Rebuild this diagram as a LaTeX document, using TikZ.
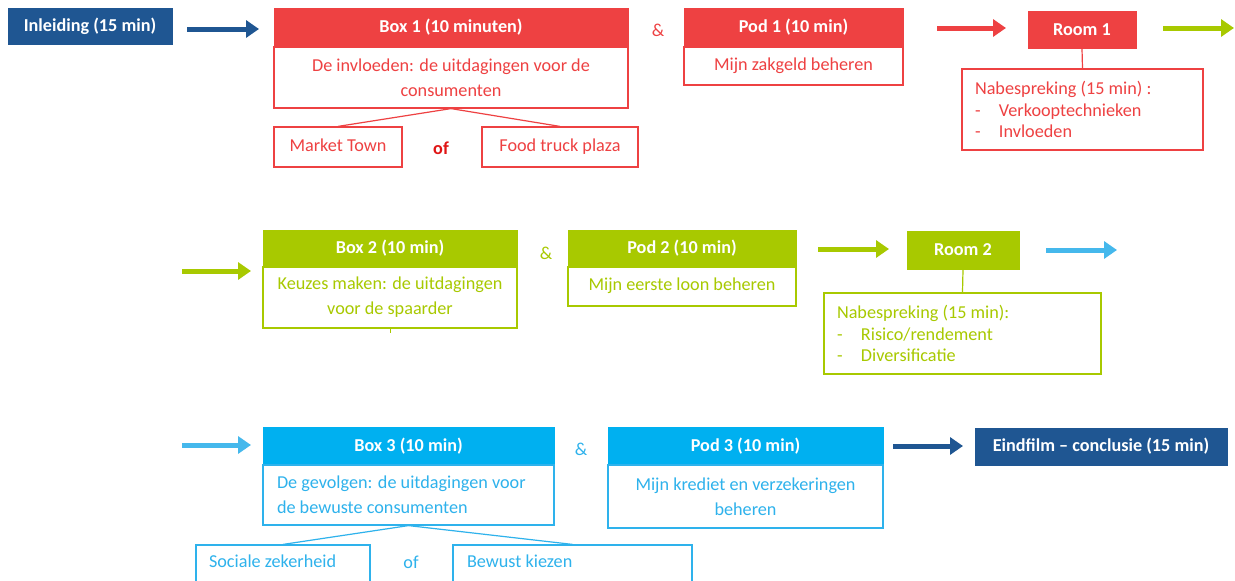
\documentclass[tikz,border=0pt]{standalone}
\usepackage{fontspec}
\setmainfont{Carlito}
\usetikzlibrary{arrows.meta}
\definecolor{cred}{HTML}{EE4142}
\definecolor{cofred}{HTML}{E01515}
\definecolor{cgreen}{HTML}{A8C900}
\definecolor{ccyan}{HTML}{00B0F0}
\definecolor{ccyantext}{HTML}{2EB2EC}
\definecolor{carrblue}{HTML}{45B8EC}
\definecolor{cdark}{HTML}{1F5692}
\newcommand{\hdrsize}{\fontsize{18.2}{20}\selectfont}
\newcommand{\bodysize}{\fontsize{18.2}{25}\selectfont}
\newcommand{\nabsize}{\fontsize{18.2}{21.5}\selectfont}
\begin{document}
\begin{tikzpicture}[x=1pt,y=-1pt,
  hdr/.style={fill=#1, draw=#1, text=white, font=\bfseries\hdrsize, inner sep=0pt, line width=1pt},
  bodybox/.style={draw=#1, fill=white, text=#1, line width=1.2pt, inner sep=0pt, align=center, font=\bodysize},
  leftbox/.style={draw=#1, fill=white, text=#1, line width=1.2pt, inner ysep=0pt, align=flush left, font=\nabsize},
  oneline/.style={text height=12pt, text depth=4pt},
  amp/.style={text=#1, font=\hdrsize, inner sep=0pt},
  conn/.style={draw=#1, line width=1.2pt},
  arr/.style={draw=#1, line width=5pt, -{Triangle[length=13pt,width=17pt]}}
]
\clip (0,0) rectangle (1235,581);
\fill[white] (0,0) rectangle (1235,581);

% ---------- Row 1 ----------
\node[hdr=cdark, minimum width=164, minimum height=36] (inl) at (90,26) {Inleiding (15 min)};
\coordinate (a1s) at (187,29); \coordinate (a1e) at (259,29);
\draw[arr=cdark] (a1s) -- (a1e);

\node[hdr=cred, minimum width=354, minimum height=39] (b1h) at (451,27.5) {Box 1 (10 minuten)};
\node[bodybox=cred, minimum width=354, minimum height=61] (b1b) at (451,77.5) {De invloeden: de uitdagingen voor de\\consumenten};
\node[bodybox=cred, oneline, minimum width=128, minimum height=40] (mt) at (338,147) {Market Town};
\node[bodybox=cred, oneline, minimum width=156, minimum height=40] (ft) at (560,147) {Food truck plaza};
\node[text=cofred, font=\bfseries\hdrsize, inner sep=0pt] (of1) at (441,148) {of};
\draw[conn=cred] (b1b.south) -- (mt.north);
\draw[conn=cred] (b1b.south) -- (ft.north);

\node[amp=cred] (amp1) at (658,30) {\&};
\node[hdr=cred, minimum width=219, minimum height=39] (p1h) at (793.5,27.5) {Pod 1 (10 min)};
\node[bodybox=cred, oneline, minimum width=219, minimum height=38] (p1b) at (793.5,66) {Mijn zakgeld beheren};

\coordinate (a2s) at (937,28); \coordinate (a2e) at (1006,28);
\draw[arr=cred] (a2s) -- (a2e);
\node[hdr=cred, minimum width=108, minimum height=37] (r1) at (1082,29.5) {Room 1};
\node[leftbox=cred, minimum width=241, minimum height=81, text width=215, inner xsep=13pt] (n1) at (1082.5,109.5)
  {Nabespreking (15 min) :\\\makebox[24pt][l]{-}Verkooptechnieken\\\makebox[24pt][l]{-}Invloeden};
\draw[conn=cred] (r1.south) -- (n1.north);
\coordinate (a3s) at (1163,28); \coordinate (a3e) at (1234,28);
\draw[arr=cgreen] (a3s) -- (a3e);

% ---------- Row 2 ----------
\coordinate (a4s) at (182,271); \coordinate (a4e) at (251,271);
\draw[arr=cgreen] (a4s) -- (a4e);
\node[hdr=cgreen, minimum width=254, minimum height=37] (b2h) at (390,248.5) {Box 2 (10 min)};
\node[bodybox=cgreen, minimum width=254, minimum height=61] (b2b) at (390,297.5) {Keuzes maken: de uitdagingen\\voor de spaarder};
\coordinate (stub) at (390,333);
\draw[draw=cgreen, line width=0.6pt] (b2b.south) -- (stub);

\node[amp=cgreen] (amp2) at (546,253) {\&};
\node[hdr=cgreen, minimum width=228, minimum height=37] (p2h) at (682,248.5) {Pod 2 (10 min)};
\node[bodybox=cgreen, oneline, minimum width=228, minimum height=39] (p2b) at (682,286.5) {Mijn eerste loon beheren};

\coordinate (a5s) at (818,249); \coordinate (a5e) at (889,249);
\draw[arr=cgreen] (a5s) -- (a5e);
\node[hdr=cgreen, minimum width=112, minimum height=38] (r2) at (963,250) {Room 2};
\node[leftbox=cgreen, minimum width=277, minimum height=81, text width=251, inner xsep=13pt] (n2) at (962.5,333.5)
  {Nabespreking (15 min):\\\makebox[24pt][l]{-}Risico/rendement\\\makebox[24pt][l]{-}Diversificatie};
\draw[conn=cgreen] (r2.south) -- (n2.north);
\coordinate (a6s) at (1046,250); \coordinate (a6e) at (1117,250);
\draw[arr=carrblue] (a6s) -- (a6e);

% ---------- Row 3 ----------
\coordinate (a7s) at (182,445); \coordinate (a7e) at (251,445);
\draw[arr=carrblue] (a7s) -- (a7e);
\node[hdr=ccyan, minimum width=291, minimum height=38] (b3h) at (408.5,446) {Box 3 (10 min)};
\node[leftbox=ccyantext, minimum width=291, minimum height=60, text width=263, inner xsep=14pt, font=\bodysize] (b3b) at (408.5,495)
  {De gevolgen: de uitdagingen voor\\de bewuste consumenten};
\node[leftbox=ccyantext, text height=12pt, text depth=7pt, minimum width=174, minimum height=40, text width=148, inner xsep=13pt, font=\bodysize] (sz) at (283,565) {Sociale zekerheid};
\node[leftbox=ccyantext, text height=12pt, text depth=7pt, minimum width=239, minimum height=40, text width=211, inner xsep=14pt, font=\bodysize] (bk) at (572.5,565) {Bewust kiezen};
\node[text=ccyantext, font=\hdrsize, inner sep=0pt] (of2) at (411,562) {of};
\draw[conn=ccyantext] (b3b.south) -- (sz.north);
\draw[conn=ccyantext] (b3b.south) -- (bk.north);

\node[amp=ccyantext] (amp3) at (581,449) {\&};
\node[hdr=ccyan, minimum width=275, minimum height=38] (p3h) at (745.5,446) {Pod 3 (10 min)};
\node[bodybox=ccyantext, minimum width=275, minimum height=63] (p3b) at (745.5,496.5) {Mijn krediet en verzekeringen\\beheren};

\coordinate (a8s) at (893,446); \coordinate (a8e) at (963,446);
\draw[arr=cdark] (a8s) -- (a8e);
\node[hdr=cdark, minimum width=252, minimum height=37] (eind) at (1101,446.5) {Eindfilm – conclusie (15 min)};
\end{tikzpicture}
\end{document}
